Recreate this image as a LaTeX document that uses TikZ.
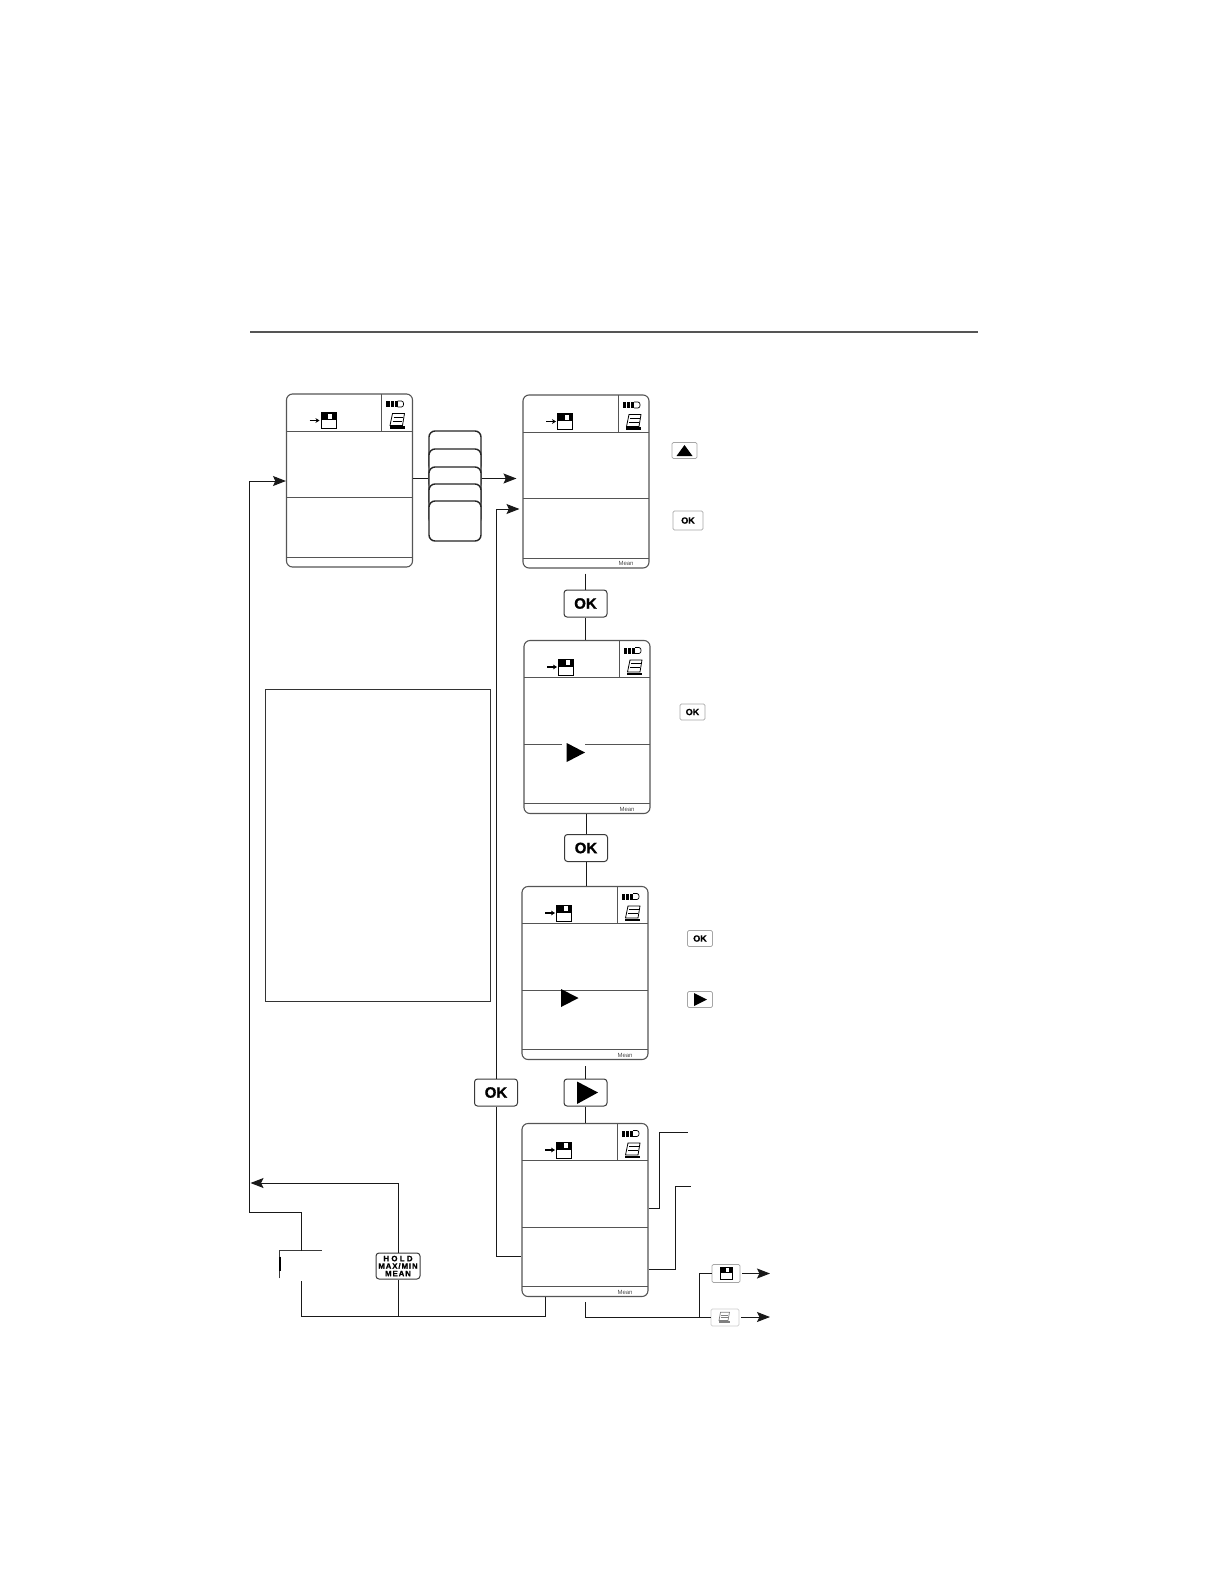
\documentclass[tikz,border=0pt]{standalone}
\usepackage{fontspec}
\setmainfont{Liberation Sans}
\newfontfamily\keyfont[BoldFeatures={FakeBold=1.2}]{Liberation Sans}
\usetikzlibrary{arrows.meta}
\definecolor{linegray}{HTML}{3A3A3A}
\definecolor{facegray}{HTML}{555555}
\tikzset{
	screen/.style={draw=facegray,fill=white,line width=.55pt,rounded corners=3pt,minimum width=63pt,minimum height=86.5pt,inner sep=0pt},
	conn/.style={draw=black!90,line width=.5pt},
	keybox/.style={draw=linegray,fill=white,line width=.5pt,rounded corners=1.5pt,minimum width=21.5pt,minimum height=13.5pt,inner sep=0pt,font=\fontsize{7.5}{7.5}\selectfont\keyfont\bfseries},
	tinykey/.style={draw=gray!70,fill=white,line width=.4pt,rounded corners=.7pt,minimum width=12.5pt,minimum height=8pt,inner sep=0pt,font=\fontsize{4.5}{4.5}\selectfont\keyfont\bfseries},
	stackkey/.style={draw=black!85,fill=white,line width=.7pt,rounded corners=3pt,minimum width=26pt,minimum height=20pt,inner sep=0pt},
	meantext/.style={inner sep=0pt,text=black!70,font=\fontsize{3}{3}\selectfont},
	scrface/.pic={
		\draw[draw=facegray,line width=.5pt] (-63,-49.5)--(63,-49.5);
		\draw[draw=facegray,line width=.5pt] (32,-86.5)--(32,-49.5);
		\draw[draw=facegray,line width=.45pt] (-63,17)--(63,17);
		\draw[draw=facegray,line width=.45pt] (-63,76.5)--(63,76.5);
		% arrow and disk
		\draw[-{Stealth[length=2pt,width=2.4pt]},line width=.7pt] (-40,-60)--(-30,-60);
		\pic at (-21,-60) {floppy};
		% battery
		\fill (36.5,-79.5) rectangle (48,-73.5);
		\fill[white] (40.2,-79.5) rectangle (40.9,-73.5);
		\fill[white] (44.2,-79.5) rectangle (44.9,-73.5);
		\draw[line width=.35pt] (48,-79.5)--(52,-79.5) to[out=0,in=0,looseness=1.2] (52,-73.5)--(48,-73.5);
		% printer
		\draw[line width=.4pt] (43,-67)--(55,-67)--(53,-55)--(40.5,-55)--cycle;
		\draw[line width=.3pt] (44,-63.5)--(53.5,-63.5);
		\draw[line width=.3pt] (43,-59.5)--(52.5,-59.5);
		\fill (40,-54.5) rectangle (55,-52);
	},
	floppy/.pic={
		\draw[line width=.5pt,fill=white] (-7.5,-8) rectangle (7.5,8);
		\fill (-7.5,-8) rectangle (7.5,-.5);
		\fill[white] (-.5,-7) rectangle (3.8,-2);
	},
}
\begin{document}
\begin{tikzpicture}[x=.5pt,y=-.5pt,>={Stealth[length=6.5pt,width=5pt,inset=1.2pt]}]
	\useasboundingbox (0,0) rectangle (1224,1584);
	\draw[draw=facegray,line width=1.1pt] (250,332)--(977.5,332);
	% screens
	\foreach \name/\cx/\cy in {A/349.5/480.5,B/586/481.5,C/587/727,D/585/973,E/585/1210}{
		\node[screen] (scr\name) at (\cx,\cy) {};
		\pic at (scr\name) {scrface};
	}
	\foreach \name in {B,C,D,E}{
		\node[meantext] (mean\name) at ([xshift=-11.75pt,yshift=2.5pt]scr\name.south east) {Mean};
	}
	% stack of keys
	\foreach \i/\y in {1/451,2/469,3/487,4/504,5/521}{
		\node[stackkey] (stack\i) at (455,\y) {};
	}
	\coordinate (stackIn) at (stack3.west |- 0,478.5);
	\coordinate (stackOut) at (stack3.east |- 0,478.5);
	% note box
	\node[draw=black!80,line width=.5pt,minimum width=112.5pt,minimum height=156pt,inner sep=0pt] (noteBox) at (377.5,845.5) {};
	% keys
	\node[keybox] (okA) at (585.5,603.5) {OK};
	\node[keybox] (okB) at (586,848) {OK};
	\node[keybox] (playKey) at (585.5,1092.5) {};
	\node[keybox] (okSide) at (496,1092.5) {OK};
	\node[draw=none,minimum width=21pt,minimum height=13.5pt,inner sep=0pt] (blankKey) at (301,1264.5) {};
	\draw[draw=linegray,line width=.4pt] (blankKey.south west)--(blankKey.north west)--(blankKey.north east);
	\draw[line width=.9pt] ([yshift=-3pt]blankKey.north west)--([yshift=3.5pt]blankKey.south west);
	\node[keybox,minimum width=22pt,minimum height=13pt,align=center,font=\fontsize{3.9}{3.75}\selectfont\keyfont\bfseries] (holdKey) at (398,1266) {\addfontfeature{LetterSpace=30}HOLD\\\addfontfeature{LetterSpace=12}MAX/MIN\\\addfontfeature{LetterSpace=12}MEAN};
	\node[tinykey] (keyUp) at (684.5,450.5) {};
	\node[tinykey,minimum width=15pt,minimum height=9.5pt] (keyOkA) at (688,520.5) {OK};
	\node[tinykey] (keyOkB) at (692.5,712) {OK};
	\node[tinykey] (keyOkC) at (700,938.5) {OK};
	\node[tinykey] (keyPlay) at (700,999.5) {};
	\node[tinykey,minimum width=14pt,minimum height=9pt] (keyDisk) at (726,1273.5) {};
	\node[tinykey,minimum width=14pt,minimum height=8.5pt,draw=gray!40] (keyPrint) at (725,1317.5) {};
	\pic[scale=.8] at (726,1273.5) {floppy};
	\begin{scope}[shift={(725,1317.5)},scale=.75,gray]
		\draw[line width=.35pt] (-6,-7)--(6,-7)--(4,4)--(-8,4)--cycle;
		\draw[line width=.3pt] (-5,-3)--(4,-3);
		\draw[line width=.3pt] (-5.5,0)--(3.5,0);
		\fill (-8,4) rectangle (6,7);
	\end{scope}
	% triangles
	\fill[white] (562,742) rectangle (585,746);
	\fill (566.7,743)--(585,752.5)--(566.7,762)--cycle;
	\fill (561,989)--(578.5,998)--(561,1007)--cycle;
	\fill (577,1081.5)--(598,1092.5)--(577,1104)--cycle;
	\fill (694,993)--(707,999.5)--(694,1006)--cycle;
	\fill (676.5,456)--(684.5,445)--(692.5,456)--cycle;
	% connectors
	\draw[conn] (scrA.east |- stackIn)--(stackIn);
	\draw[conn,->,shorten >=3pt] (stackOut)--(stackOut -| scrB.west);
	\draw[conn,shorten <=2.5pt] (scrB.south -| okA)--(okA.north);
	\draw[conn] (okA.south)--(okA.south |- scrC.north);
	\draw[conn] (scrC.south -| okB)--(okB.north);
	\draw[conn] (okB.south)--(okB.south |- scrD.north);
	\draw[conn,shorten <=3pt] (scrD.south -| playKey)--(playKey.north);
	\draw[conn] (playKey.south)--(playKey.south |- scrE.north);
	\coordinate (backIn) at (scrB.west |- 0,509);
	\draw[conn,->,shorten >=1.5pt] (okSide.north)--(okSide.north |- backIn)--(backIn);
	\coordinate (backOut) at (scrE.west |- 0,1256);
	\draw[conn] (okSide.south)--(okSide.south |- backOut)--(backOut);
	% left loop
	\coordinate (loopCorner) at (249.5,1212);
	\coordinate (loopIn) at (scrA.west |- 0,481);
	\draw[conn,->] (blankKey.north)--(blankKey.north |- loopCorner)--(loopCorner)--(loopCorner |- loopIn)--(loopIn);
	\coordinate (holdBack) at (250.5,1183);
	\draw[conn,->] (holdKey.north)--(holdKey.north |- holdBack)--(holdBack);
	\coordinate (busEnd) at (545.5,1316);
	\draw[conn,shorten <=1.5pt] (blankKey.south)--(blankKey.south |- busEnd)--(busEnd)--(busEnd |- scrE.south);
	\draw[conn] (holdKey.south)--(holdKey.south |- busEnd);
	% leads from lower screen
	\coordinate (leadA) at (688,1132);
	\coordinate (leadB) at (691,1186);
	\draw[conn] (scrE.east |- 0,1208)--(659.5,1208)--(659.5 ,1132)--(leadA);
	\draw[conn] (scrE.east |- 0,1269)--(675.5,1269)--(675.5,1186)--(leadB);
	% save and print exits
	\coordinate (exitA) at (770,1273.5);
	\coordinate (exitB) at (770,1317);
	\coordinate (forkB) at (699,1317);
	\draw[conn,shorten <=2.5pt] (scrE.south -| playKey)--(playKey |- forkB)--(keyPrint.west |- forkB);
	\draw[conn] (forkB)--(forkB |- keyDisk)--(keyDisk.west);
	\draw[conn,->] ([xshift=1pt]keyDisk.east)--(exitA);
	\draw[conn,->] ([xshift=1pt]keyPrint.east |- exitB)--(exitB);
\end{tikzpicture}
\end{document}
